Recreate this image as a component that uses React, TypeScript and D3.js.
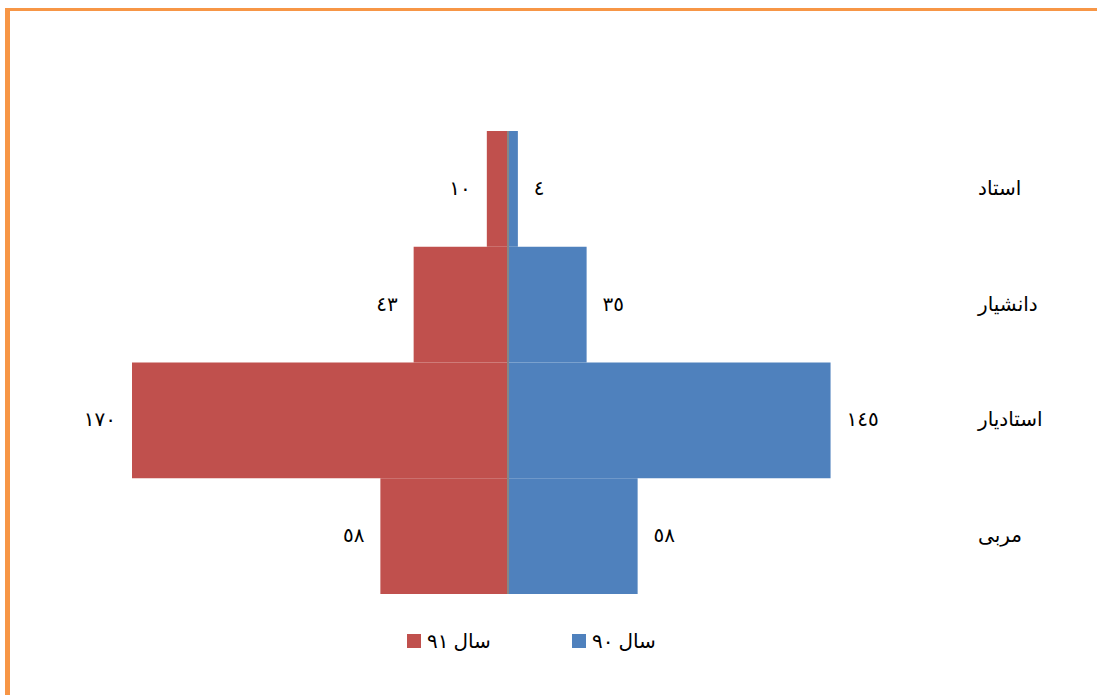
import React, { useRef, useEffect } from "react";
import * as d3 from "d3";

// categories (top to bottom)
const categories = ["استاد", "دانشیار", "استادیار", "مربی"];
// series values
const values91 = [10, 43, 170, 58]; // red, left
const values90 = [4, 35, 145, 58]; // blue, right
// labels as shown (Arabic-Indic digits)
const labels91 = ["١٠", "٤٣", "١٧٠", "٥٨"];
const labels90 = ["٤", "٣٥", "١٤٥", "٥٨"];
const seriesNames = ["سال ٩١", "سال ٩٠"];

const RED = "#C0504D";
const BLUE = "#4F81BD";
const FONT = "'Times New Roman', 'DejaVu Sans', serif";

export default function App() {
  const svgRef = useRef<SVGSVGElement | null>(null);

  useEffect(() => {
    const W = 1097;
    const H = 695;
    const center = 509;

    const svg = d3.select(svgRef.current);
    svg.selectAll("*").remove();
    svg.attr("width", W).attr("height", H);

    svg.append("rect").attr("width", W).attr("height", H).attr("fill", "#fff");

    // orange frame (left + top visible)
    svg
      .append("rect")
      .attr("x", 5)
      .attr("y", 8)
      .attr("width", W)
      .attr("height", 3)
      .attr("fill", "#F79646");
    svg
      .append("rect")
      .attr("x", 5)
      .attr("y", 8)
      .attr("width", 5)
      .attr("height", H)
      .attr("fill", "#F79646");

    // scales
    const mag = d3.scaleLinear().domain([0, 170]).range([0, 377]);
    const y = d3
      .scaleBand<string>()
      .domain(categories)
      .range([131, 594])
      .padding(0);

    const g = svg.append("g");

    // left bars (91)
    g.selectAll(".bar91")
      .data(values91)
      .join("rect")
      .attr("x", (d) => center - mag(d))
      .attr("y", (_, i) => y(categories[i])!)
      .attr("width", (d) => mag(d))
      .attr("height", y.bandwidth())
      .attr("fill", RED);

    // right bars (90)
    g.selectAll(".bar90")
      .data(values90)
      .join("rect")
      .attr("x", center)
      .attr("y", (_, i) => y(categories[i])!)
      .attr("width", (d) => mag(d))
      .attr("height", y.bandwidth())
      .attr("fill", BLUE);

    // center axis line
    g.append("line")
      .attr("x1", center - 1)
      .attr("x2", center - 1)
      .attr("y1", 131)
      .attr("y2", 594)
      .attr("stroke", "#868686")
      .attr("stroke-width", 2);

    const mid = (i: number) => y(categories[i])! + y.bandwidth() / 2;

    // value labels
    g.selectAll(".lab91")
      .data(values91)
      .join("text")
      .attr("x", (d) => center - mag(d) - 16)
      .attr("y", (_, i) => mid(i) + 6)
      .attr("text-anchor", "end")
      .style("font-family", FONT)
      .style("font-size", "20px")
      .attr("fill", "#000")
      .text((_, i) => labels91[i]);

    g.selectAll(".lab90")
      .data(values90)
      .join("text")
      .attr("x", (d) => center + mag(d) + 16)
      .attr("y", (_, i) => mid(i) + 6)
      .attr("text-anchor", "start")
      .style("font-family", FONT)
      .style("font-size", "20px")
      .attr("fill", "#000")
      .text((_, i) => labels90[i]);

    // category labels
    g.selectAll(".cat")
      .data(categories)
      .join("text")
      .attr("x", 978)
      .attr("y", (_, i) => mid(i) + 6)
      .attr("text-anchor", "start")
      .style("font-family", FONT)
      .style("font-size", "20px")
      .attr("fill", "#000")
      .text((d) => d);

    // legend
    const legend = [
      { name: seriesNames[0], color: RED, x: 407 },
      { name: seriesNames[1], color: BLUE, x: 572 },
    ];
    legend.forEach((l) => {
      svg
        .append("rect")
        .attr("x", l.x)
        .attr("y", 634)
        .attr("width", 14)
        .attr("height", 14)
        .attr("fill", l.color);
      svg
        .append("text")
        .attr("x", l.x + 20)
        .attr("y", 648)
        .attr("text-anchor", "start")
        .style("font-family", FONT)
        .style("font-size", "20px")
        .attr("fill", "#000")
        .text(l.name);
    });
  }, []);

  return (
    <div style={{ position: "absolute", left: 0, top: 0 }}>
      <svg ref={svgRef} style={{ display: "block" }} />
    </div>
  );
}
